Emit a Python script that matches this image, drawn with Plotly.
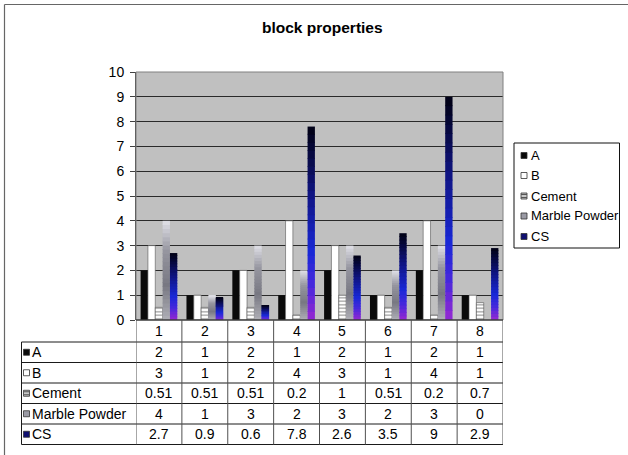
import plotly.graph_objects as go

# ---------------- data ----------------
categories = [1, 2, 3, 4, 5, 6, 7, 8]
series_names = ["A", "B", "Cement", "Marble Powder", "CS"]
a_vals = [2, 1, 2, 1, 2, 1, 2, 1]
b_vals = [3, 1, 2, 4, 3, 1, 4, 1]
cement_vals = [0.51, 0.51, 0.51, 0.2, 1, 0.51, 0.2, 0.7]
marble_vals = [4, 1, 3, 2, 3, 2, 3, 0]
cs_vals = [2.7, 0.9, 0.6, 7.8, 2.6, 3.5, 9, 2.9]
y_ticks = list(range(0, 11))
title_text = "block properties"

series_vals = [a_vals, b_vals, cement_vals, marble_vals, cs_vals]

# ---------------- geometry (pixels) ----------------
FW, FH = 628, 455
L, R, T, B = 136, 125, 72, 135
PW, PH = FW - L - R, FH - T - B
FONT = "Liberation Sans, Arial, sans-serif"


def xp(px):
    return (px - L) / PW


def yp(py):
    return (FH - B - py) / PH


def lerp_color(stops, t):
    for i in range(len(stops) - 1):
        t0, c0 = stops[i]
        t1, c1 = stops[i + 1]
        if t <= t1:
            f = (t - t0) / (t1 - t0) if t1 > t0 else 0
            c = [round(c0[k] + (c1[k] - c0[k]) * f) for k in range(3)]
            return f"rgb({c[0]},{c[1]},{c[2]})"
    c = stops[-1][1]
    return f"rgb({c[0]},{c[1]},{c[2]})"


fig = go.Figure()
n_series = len(series_names)
bw = 0.8 / n_series
offsets = [-0.4 + k * bw for k in range(n_series)]

# A: solid black
fig.add_trace(go.Bar(x=categories, y=a_vals, width=bw, offset=offsets[0],
                     marker=dict(color="#0a0a0a", line=dict(width=0)),
                     name="A", showlegend=False))
# B: white
fig.add_trace(go.Bar(x=categories, y=b_vals, width=bw, offset=offsets[1],
                     marker=dict(color="#ffffff", line=dict(width=0.6, color="#555555")),
                     name="B", showlegend=False))
# Cement: horizontal stripes
fig.add_trace(go.Bar(x=categories, y=cement_vals, width=bw, offset=offsets[2],
                     marker=dict(color="#ffffff",
                                 pattern=dict(shape="-", fgcolor="#606060", bgcolor="#ffffff",
                                              size=3.5, solidity=0.45),
                                 line=dict(width=0.6, color="#555555")),
                     name="Cement", showlegend=False))

# gradient bars built from stacked segments of each value
N_SEG = 24
marble_stops = [(0.0, (175, 175, 182)), (0.35, (120, 120, 130)),
                (0.7, (150, 150, 160)), (1.0, (225, 225, 232))]
cs_stops = [(0.0, (150, 40, 210)), (0.18, (70, 40, 220)), (0.35, (25, 40, 215)),
            (0.65, (15, 20, 130)), (1.0, (0, 0, 18))]
for idx, vals, stops in [(3, marble_vals, marble_stops), (4, cs_vals, cs_stops)]:
    for j in range(N_SEG):
        base = [v * j / N_SEG for v in vals]
        top = [v * (j + 1) / N_SEG for v in vals]
        hgt = [t - b0 + (0.03 if (j < N_SEG - 1 and t > 0) else 0) for t, b0 in zip(top, base)]
        fig.add_trace(go.Bar(x=categories, y=hgt, base=base, width=bw, offset=offsets[idx],
                             marker=dict(color=lerp_color(stops, (j + 0.5) / N_SEG),
                                         line=dict(width=0)),
                             name=series_names[idx], showlegend=False, hoverinfo="skip"))

shapes = []
annotations = []

# plot-area border (grey)
shapes.append(dict(type="rect", xref="paper", yref="paper", x0=0, x1=1, y0=0, y1=1,
                   line=dict(color="#808080", width=1), layer="above"))

# chart outer frame (left & top visible)
shapes.append(dict(type="line", xref="paper", yref="paper", x0=xp(4.5), x1=xp(4.5),
                   y0=yp(4.5), y1=yp(FH + 5), line=dict(color="#666666", width=1.2)))
shapes.append(dict(type="line", xref="paper", yref="paper", x0=xp(4.5), x1=xp(FW + 5),
                   y0=yp(4.5), y1=yp(4.5), line=dict(color="#666666", width=1.2)))

# ---------------- data table ----------------
row_lines = [342, 362.5, 383, 403.5, 424, 444.5]
tbl_left = 21.5
line_col = "#1a1a1a"
# x-axis / table top
shapes.append(dict(type="line", xref="paper", yref="paper", x0=0, x1=1, y0=0, y1=0,
                   line=dict(color=line_col, width=1), layer="above"))
for ry in row_lines:
    shapes.append(dict(type="line", xref="paper", yref="paper", x0=xp(tbl_left), x1=1,
                       y0=yp(ry), y1=yp(ry), line=dict(color=line_col, width=1)))
# vertical lines at category boundaries
for k in range(len(categories) + 1):
    xb = categories[0] - 0.5 + k
    shapes.append(dict(type="line", xref="x", yref="paper", x0=xb, x1=xb,
                       y0=0, y1=yp(row_lines[-1]), line=dict(color="#505050", width=1)))
shapes.append(dict(type="line", xref="paper", yref="paper", x0=xp(tbl_left), x1=xp(tbl_left),
                   y0=yp(row_lines[0]), y1=yp(row_lines[-1]), line=dict(color=line_col, width=1)))

TF = dict(family=FONT, size=14, color="#000000")
# header row: category numbers
hdr_c = (320 + row_lines[0]) / 2
for c in categories:
    annotations.append(dict(x=c, y=yp(hdr_c), xref="x", yref="paper", text=str(c),
                            showarrow=False, font=TF, xanchor="center", yanchor="middle"))


def key_shapes(cx, cy, idx, size=7):
    x0, x1 = xp(cx - size / 2), xp(cx + size / 2)
    y0, y1 = yp(cy + size / 2), yp(cy - size / 2)
    fills = ["#0a0a0a", "#ffffff", "#c8c8c8", "#9a9aa4", "#101070"]
    d = dict(type="rect", xref="paper", yref="paper", x0=x0, x1=x1, y0=y0, y1=y1,
             fillcolor=fills[idx], line=dict(color="#333333", width=0.8))
    out = [d]
    if idx == 2:
        for s in (-1.5, 1.5):
            out.append(dict(type="line", xref="paper", yref="paper", x0=x0, x1=x1,
                            y0=yp(cy + s), y1=yp(cy + s), line=dict(color="#555555", width=1)))
    return out


for r, (name, vals) in enumerate(zip(series_names, series_vals)):
    cy = (row_lines[r] + row_lines[r + 1]) / 2
    shapes.extend(key_shapes(26.5, cy, r, size=6))
    annotations.append(dict(x=xp(30.5), y=yp(cy), xref="paper", yref="paper", text=name,
                            showarrow=False, font=TF, xanchor="left", yanchor="middle"))
    for c, v in zip(categories, vals):
        annotations.append(dict(x=c, y=yp(cy), xref="x", yref="paper", text=f"{v:g}",
                                showarrow=False, font=TF, xanchor="center", yanchor="middle"))

# ---------------- legend (box at right) ----------------
lg_x0, lg_x1, lg_y0, lg_y1 = 514, 619.5, 143, 248
shapes.append(dict(type="rect", xref="paper", yref="paper", x0=xp(lg_x0), x1=xp(lg_x1),
                   y0=yp(lg_y1), y1=yp(lg_y0), line=dict(color="#111111", width=1),
                   fillcolor="#ffffff", layer="below"))
leg_rows = [155.5, 175.5, 196, 216, 236.5]
LF = dict(family=FONT, size=13, color="#000000")
for r, name in enumerate(series_names):
    shapes.extend(key_shapes(524, leg_rows[r], r, size=6))
    annotations.append(dict(x=xp(528.5), y=yp(leg_rows[r]), xref="paper", yref="paper",
                            text=name, showarrow=False, font=LF, xanchor="left",
                            yanchor="middle"))

fig.update_layout(
    width=FW, height=FH,
    margin=dict(l=L, r=R, t=T, b=B, pad=0),
    paper_bgcolor="#ffffff",
    plot_bgcolor="#c0c0c0",
    barmode="overlay",
    showlegend=False,
    title=dict(text=f"<b>{title_text}</b>", x=322.3 / FW, xref="container", xanchor="center",
               y=1 - 28 / FH, yref="container", yanchor="middle",
               font=dict(family=FONT, size=15.5, color="#000000")),
    xaxis=dict(range=[categories[0] - 0.5, categories[-1] + 0.5], showticklabels=False,
               showgrid=False, zeroline=False, showline=False, ticks=""),
    yaxis=dict(range=[y_ticks[0], y_ticks[-1]], tickvals=y_ticks, ticks="outside", ticklen=5,
               tickcolor="#404040", showline=True, linecolor="#404040", linewidth=1,
               showgrid=True, gridcolor="#2a2a2a", gridwidth=1, zeroline=False,
               tickfont=dict(family=FONT, size=14, color="#000000"),
               ticklabelstandoff=3),
    shapes=shapes,
    annotations=annotations,
)

fig.write_html("out.html")
